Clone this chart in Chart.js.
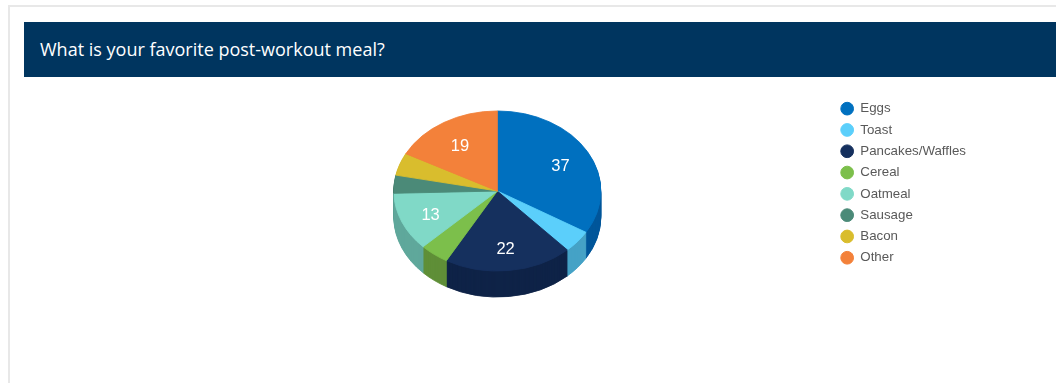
<!DOCTYPE html>
<html><head><meta charset="utf-8">
<script src="https://cdn.jsdelivr.net/npm/chart.js@4.4.1/dist/chart.umd.min.js"></script>
<style>
html,body{margin:0;padding:0;background:#fff;width:1056px;height:383px;overflow:hidden;}
#card{position:absolute;left:8px;top:5px;width:1100px;height:420px;border:2px solid #e8e8e8;box-sizing:border-box;}
#bar{position:absolute;left:24px;top:22px;width:1040px;height:55px;background:#00355f;}
#title{position:absolute;left:16px;top:0;line-height:55px;color:#fff;font-family:"Open Sans",sans-serif;font-size:18px;white-space:nowrap;}
#c{position:absolute;left:0;top:0;}
</style></head>
<body>
<div id="card"></div>
<div id="bar"><div id="title">What is your favorite post-workout meal?</div></div>
<canvas id="c" width="1056" height="383"></canvas>
<script>
const categories = ['Eggs','Toast','Pancakes/Waffles','Cereal','Oatmeal','Sausage','Bacon','Other'];
const votes = [37, 5, 22, 5, 13, 4, 5, 19];
const topColors = ['#0070bf','#5bcffb','#15305e','#7cbf4b','#80d9c7','#4b8a78','#d9bd2d','#f3813a'];
const sideColors = ['#00569a','#45a2c6','#0f2347','#5f8f37','#5fa89b','#386858','#a48f21','#b8612a'];
const labelMin = 10;

const K = 0.773, TOP_CY = 191, DEPTH = 26;
const pie3d = {
  id: 'pie3d',
  beforeDatasetsDraw(chart) {
    const ctx = chart.ctx;
    const arcs = chart.getDatasetMeta(0).data;
    if (!arcs.length) return false;
    const cx = arcs[0].x, cy = arcs[0].y;
    const place = (d) => { ctx.translate(cx, TOP_CY + d); ctx.scale(1, K); ctx.translate(-cx, -cy); };
    for (let d = DEPTH; d >= 1; d--) {
      ctx.save(); place(d);
      arcs.forEach((arc, i) => {
        const o = arc.options; const bg = o.backgroundColor, bc = o.borderColor;
        o.backgroundColor = sideColors[i]; o.borderColor = sideColors[i];
        arc.draw(ctx);
        o.backgroundColor = bg; o.borderColor = bc;
      });
      ctx.restore();
    }
    ctx.save(); place(0);
    arcs.forEach(a => a.draw(ctx));
    ctx.restore();
    ctx.save();
    ctx.fillStyle = '#fff';
    ctx.font = '16.5px "Liberation Sans", Arial, sans-serif';
    ctx.textAlign = 'center'; ctx.textBaseline = 'middle';
    const data = chart.data.datasets[0].data;
    arcs.forEach((arc, i) => {
      if (data[i] < labelMin) return;
      const p = arc.getProps(['startAngle','endAngle','outerRadius'], true);
      const a = (p.startAngle + p.endAngle) / 2, r = p.outerRadius * 0.7;
      ctx.fillText(String(data[i]), cx + Math.cos(a) * r, TOP_CY + 3 + Math.sin(a) * r * K);
    });
    ctx.restore();
    return false;
  }
};

new Chart(document.getElementById('c'), {
  type: 'pie',
  data: {
    labels: categories,
    datasets: [{ data: votes, backgroundColor: topColors, borderColor: topColors, borderWidth: 1, radius: 103.5 }]
  },
  options: {
    responsive: false, animation: false, devicePixelRatio: 1, events: [],
    layout: { padding: { left: 162, right: 80, top: 94, bottom: 80 } },
    plugins: {
      legend: {
        position: 'right', align: 'start',
        labels: {
          usePointStyle: true, pointStyle: 'circle', boxWidth: 13, boxHeight: 9, padding: 8,
          color: '#595959', font: { family: '"Liberation Sans", Arial, sans-serif', size: 13.3 }
        }
      },
      tooltip: { enabled: false }
    }
  },
  plugins: [pie3d]
});
</script>
</body></html>
